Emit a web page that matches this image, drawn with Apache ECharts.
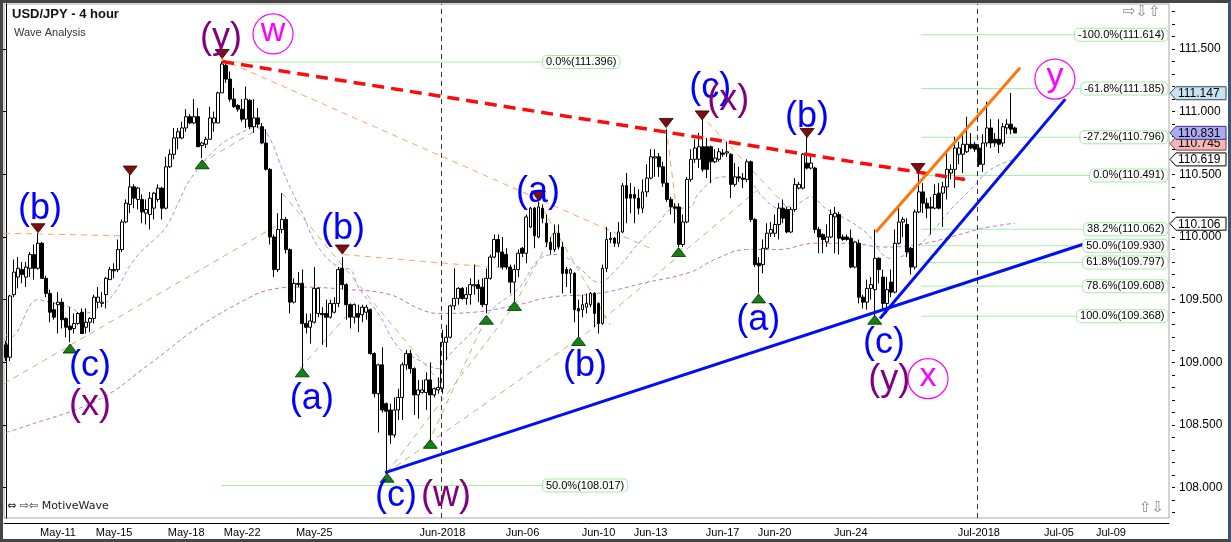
<!DOCTYPE html>
<html><head><meta charset="utf-8">
<script src="https://cdn.jsdelivr.net/npm/echarts@6/dist/echarts.min.js"></script>
<style>
html,body{margin:0;padding:0;background:#fff;}
#chart{position:absolute;left:0;top:0;width:1231px;height:542px;}
#frame{position:absolute;left:0;top:0;width:1231px;height:542px;box-sizing:border-box;border-top:3px solid #454545;border-left:3px solid #454545;border-right:3px solid #3a5678;border-bottom:3px solid #454545;pointer-events:none;}
</style></head><body>
<div id="chart"></div><div id="frame"></div>
<script>
// ---------- DATA ----------
const slotCount = 291;
const xTickSlots = [13, 27, 45, 59, 77, 109, 129, 148, 161, 179, 192, 211, 243, 263, 276];
const xTickLabels = ['May-11','May-15','May-18','May-22','May-25','Jun-2018','Jun-06','Jun-10','Jun-13','Jun-17','Jun-20','Jun-24','Jul-2018','Jul-05','Jul-09'];
const yTickValues = [108, 108.5, 109, 109.5, 110, 110.5, 111, 111.5];
const yMinorValues = [107.8,107.9,108.0,108.1,108.2,108.3,108.4,108.5,108.6,108.7,108.8,108.9,109.0,109.1,109.2,109.3,109.4,109.5,109.6,109.7,109.8,109.9,110.0,110.1,110.2,110.3,110.4,110.5,110.6,110.7,110.8,110.9,111.0,111.1,111.2,111.3,111.4,111.5,111.6,111.7,111.8];

const candleOpen = [
109.14,109.04,109.54,109.68,109.74,109.68,109.75,109.86,109.75,109.95,
109.67,109.55,109.42,109.46,109.48,109.35,109.29,109.27,109.31,109.40,
109.28,109.32,109.35,109.48,109.47,109.54,109.66,109.74,109.74,109.90,
110.12,110.26,110.40,110.30,110.30,110.19,110.18,110.23,110.30,110.39,
110.23,110.56,110.66,110.79,110.79,110.87,110.96,110.91,110.96,110.73,
110.74,110.78,110.91,110.91,111.15,111.37,111.26,111.10,111.05,111.02,
110.94,111.09,110.88,110.95,110.88,110.75,110.54,110.00,109.74,110.06,
110.14,109.90,109.48,109.62,109.63,109.31,109.28,109.32,109.39,109.39,
109.39,109.36,109.40,109.47,109.75,109.62,109.46,109.36,109.39,109.38,
109.40,109.42,109.07,108.75,108.98,108.67,108.62,108.42,108.62,108.72,
108.98,109.07,108.95,108.74,108.76,108.76,108.86,108.74,108.78,108.79,
109.16,109.20,109.45,109.51,109.59,109.51,109.54,109.61,109.62,109.60,
109.46,109.67,109.84,109.98,109.88,109.86,109.76,109.64,109.74,109.91,
109.87,110.08,110.23,110.00,110.23,110.11,109.96,109.90,110.03,109.92,
109.74,109.71,109.71,109.43,109.42,109.44,109.46,109.55,109.47,109.31,
109.75,109.98,109.99,109.95,110.04,110.41,110.34,110.34,110.31,110.23,
110.36,110.47,110.63,110.64,110.56,110.43,110.30,110.24,110.24,109.94,
110.12,110.46,110.62,110.62,110.72,110.72,110.72,110.60,110.62,110.67,
110.67,110.66,110.42,110.48,110.47,110.46,110.60,110.14,109.79,109.78,
109.91,110.03,110.03,110.10,110.23,110.22,110.04,110.22,110.39,110.39,
110.59,110.55,110.55,110.06,110.02,109.96,110.00,110.16,110.18,110.00,
110.00,109.99,109.76,109.95,109.52,109.48,109.59,109.58,109.83,109.68,
109.47,109.64,109.56,109.95,110.12,110.10,109.91,109.76,110.20,110.36,
110.27,110.24,110.23,110.35,110.35,110.40,110.51,110.54,110.66,110.66,
110.68,110.74,110.74,110.71,110.58,110.75,110.87,110.78,110.78,110.75,
110.87,110.90,110.87
];
const candleClose = [
109.04,109.53,109.72,109.75,109.70,109.76,109.86,109.75,109.95,109.67,
109.55,109.40,109.36,109.48,109.34,109.28,109.26,109.31,109.39,109.23,
109.32,109.35,109.52,109.52,109.48,109.67,109.74,109.73,109.90,110.12,
110.27,110.40,110.31,110.39,110.20,110.22,110.31,110.35,110.39,110.23,
110.56,110.66,110.79,110.84,110.87,110.96,110.91,110.96,110.72,110.75,
110.78,110.95,110.95,111.15,111.38,111.26,111.10,111.04,111.02,110.94,
111.10,110.88,110.95,110.90,110.75,110.54,110.00,109.74,110.06,110.14,
109.90,109.48,109.63,109.63,109.31,109.28,109.33,109.59,109.59,109.38,
109.36,109.47,109.47,109.74,109.62,109.46,109.36,109.46,109.36,109.44,
109.44,109.07,108.75,108.98,108.62,108.61,108.42,108.62,108.72,108.98,
109.07,108.95,108.74,108.78,108.78,108.86,108.74,108.79,108.80,109.16,
109.20,109.45,109.51,109.59,109.51,109.54,109.62,109.62,109.59,109.46,
109.67,109.84,109.98,109.88,109.76,109.76,109.64,109.74,109.87,109.87,
110.16,110.23,110.01,110.24,110.15,109.96,109.90,110.03,109.92,109.71,
109.71,109.74,109.42,109.41,109.46,109.47,109.55,109.39,109.31,109.75,
109.98,109.99,109.95,110.04,110.41,110.31,110.31,110.31,110.23,110.36,
110.47,110.64,110.64,110.56,110.43,110.30,110.24,110.23,109.94,110.12,
110.46,110.62,110.71,110.72,110.54,110.54,110.60,110.63,110.68,110.66,
110.68,110.42,110.48,110.47,110.46,110.60,110.14,109.78,109.77,109.91,
110.03,110.06,110.10,110.23,110.15,110.04,110.22,110.42,110.42,110.66,
110.55,110.59,110.06,110.00,109.98,110.00,110.18,110.19,109.99,109.98,
109.98,109.76,109.96,109.52,109.48,109.59,109.62,109.83,109.74,109.47,
109.58,109.56,109.95,110.12,110.14,109.88,109.76,110.20,110.36,110.27,
110.23,110.23,110.34,110.23,110.40,110.54,110.54,110.71,110.71,110.74,
110.74,110.71,110.70,110.58,110.75,110.87,110.75,110.75,110.74,110.88,
110.90,110.86,110.83
];
const candleLow = [
109.01,109.01,109.52,109.59,109.63,109.60,109.68,109.66,109.74,109.67,
109.52,109.32,109.34,109.23,109.27,109.20,109.16,109.23,109.30,109.23,
109.23,109.24,109.31,109.43,109.44,109.43,109.66,109.67,109.72,109.88,
110.11,110.19,110.23,110.22,110.11,110.10,110.06,110.14,110.28,110.14,
110.22,110.55,110.62,110.70,110.78,110.84,110.90,110.90,110.72,110.63,
110.71,110.78,110.84,110.91,111.15,111.23,111.08,111.03,111.00,110.92,
110.87,110.86,110.83,110.87,110.74,110.53,109.94,109.68,109.72,110.03,
109.87,109.39,109.47,109.60,108.95,109.23,109.15,109.31,109.36,109.14,
109.12,109.35,109.39,109.44,109.58,109.34,109.27,109.31,109.24,109.32,
109.34,109.06,108.72,108.44,108.60,108.11,108.35,108.40,108.54,108.54,
108.94,108.91,108.58,108.55,108.75,108.62,108.38,108.72,108.75,108.75,
109.02,109.19,109.42,109.46,109.50,109.46,109.46,109.54,109.48,109.44,
109.39,109.66,109.83,109.76,109.74,109.74,109.55,109.46,109.68,109.84,
109.79,110.07,109.91,109.99,110.11,109.92,109.86,109.88,109.90,109.55,
109.60,109.55,109.32,109.19,109.36,109.39,109.44,109.28,109.23,109.30,
109.72,109.95,109.92,109.92,110.03,110.11,110.19,110.11,110.18,110.19,
110.32,110.46,110.48,110.48,110.40,110.28,110.18,110.11,109.92,109.92,
110.11,110.44,110.59,110.55,110.52,110.47,110.43,110.59,110.60,110.64,
110.64,110.31,110.40,110.44,110.39,110.44,110.12,109.76,109.55,109.71,
109.90,110.00,110.00,109.98,110.11,110.03,110.03,110.20,110.38,110.38,
110.54,110.54,110.03,109.87,109.87,109.92,109.99,109.87,109.86,109.97,
109.97,109.75,109.75,109.47,109.43,109.42,109.50,109.37,109.63,109.42,
109.39,109.52,109.55,109.94,110.00,109.84,109.70,109.74,110.19,110.19,
110.15,110.02,110.22,110.22,110.08,110.30,110.46,110.39,110.58,110.51,
110.67,110.70,110.68,110.56,110.52,110.72,110.71,110.72,110.67,110.72,
110.82,110.82,110.83
];
const candleHigh = [
109.17,109.54,109.82,109.84,109.80,109.80,109.88,109.94,110.03,109.96,
109.69,109.58,109.48,109.56,109.51,109.36,109.44,109.39,109.40,109.43,
109.43,109.36,109.54,109.60,109.56,109.68,109.76,109.79,109.98,110.14,
110.30,110.52,110.42,110.40,110.34,110.30,110.36,110.36,110.42,110.40,
110.64,110.70,110.87,110.87,110.92,111.02,110.98,111.10,111.03,110.76,
110.80,111.04,111.00,111.16,111.40,111.38,111.32,111.19,111.06,111.10,
111.20,111.10,111.10,111.03,110.91,110.86,110.55,110.02,110.19,110.35,
110.16,109.91,109.67,109.72,109.74,109.39,109.39,109.76,109.60,109.44,
109.50,109.50,109.52,109.76,109.84,109.63,109.47,109.47,109.46,109.46,
109.46,109.43,109.08,108.99,109.12,108.68,108.67,108.72,108.79,109.00,
109.10,109.10,108.96,108.86,108.86,108.92,109.00,108.80,108.88,109.26,
109.30,109.46,109.75,109.60,109.60,109.60,109.67,109.78,109.66,109.67,
109.75,109.86,110.02,110.02,110.00,109.91,109.78,109.78,109.90,109.92,
110.18,110.24,110.24,110.28,110.26,110.18,110.00,110.10,110.10,109.96,
109.76,109.75,109.72,109.50,109.54,109.55,109.56,109.56,109.48,109.78,
110.08,110.04,110.00,110.12,110.43,110.51,110.43,110.40,110.38,110.46,
110.58,110.70,110.70,110.67,110.60,110.86,110.32,110.27,110.27,110.18,
110.48,110.70,110.78,110.83,110.95,110.79,110.73,110.70,110.71,110.70,
110.76,110.67,110.59,110.56,110.51,110.62,110.61,110.15,109.84,109.98,
110.11,110.12,110.18,110.27,110.30,110.24,110.24,110.47,110.44,110.67,
110.82,110.64,110.56,110.08,110.03,110.10,110.22,110.24,110.20,110.02,
110.02,110.06,109.97,109.98,109.54,109.66,109.68,110.06,109.84,109.74,
109.68,109.74,110.06,110.23,110.16,110.15,109.92,110.22,110.54,110.43,
110.31,110.32,110.42,110.43,110.44,110.67,110.58,110.80,110.76,110.83,
110.96,110.83,110.76,110.74,110.82,111.08,110.94,110.83,110.94,110.91,
110.94,111.15,110.88
];

// moving averages: [slot, price]
const maFast = [[0,109.22],[1,109.20],[8,109.50],[11,109.48],[16,109.44],[19,109.39],[23,109.43],[27,109.55],[32,109.82],[37,109.98],[40,110.08],[43,110.27],[46,110.46],[53,110.72],[58,110.82],[63,110.88],[66,110.78],[69,110.54],[74,110.19],[78,109.92],[83,109.76],[86,109.74],[88,109.60],[93,109.39],[98,109.12],[103,109.02],[108,108.95],[111,109.07],[117,109.26],[122,109.44],[128,109.59],[134,109.84],[138,109.86],[143,109.76],[148,109.64],[153,109.76],[158,109.95],[163,110.11],[166,110.22],[171,110.24],[173,110.35],[179,110.48],[185,110.46],[189,110.32],[193,110.23],[198,110.27],[201,110.32],[205,110.22],[210,110.14],[215,110.03],[221,109.83],[226,109.88],[231,110.03],[236,110.22],[241,110.38],[246,110.54],[252,110.62]];
const maSlow = [[0,108.44],[3,108.47],[23,108.70],[36,108.99],[48,109.28],[61,109.52],[66,109.58],[73,109.60],[86,109.58],[96,109.54],[103,109.43],[108,109.39],[117,109.40],[128,109.46],[136,109.52],[148,109.55],[159,109.63],[171,109.72],[177,109.82],[185,109.90],[193,109.90],[202,109.95],[211,109.95],[219,109.92],[228,109.94],[236,110.00],[244,110.07],[252,110.11]];

// trend lines: [slot, price] end points
const redTrend = [[54, 111.40], [239.1, 110.46]];
const blueTrendLong = [[94.7, 108.12], [270.8, 109.96]];
const blueTrendSteep = [[218.3, 109.35], [264.6, 111.10]];
const orangeChannel = [[217.3, 110.04], [253.3, 111.35]];
const orangeThin = [
  [[-0.5, 110.03], [28.5, 110.01]],
  [[53.7, 111.42], [160.9, 109.91]],
  [[69.0, 110.35], [108.4, 108.84]],
  [[84.2, 109.86], [124.7, 109.75]],
  [[132.7, 110.30], [150.9, 109.30]],
  [[164.9, 110.87], [168.9, 109.86]],
  [[173.4, 110.98], [197.9, 110.14]],
  [[-0.5, 109.19], [1.7, 109.10]]
];
const khakiThin = [
  [[-0.5, 108.83], [69.7, 110.13]],
  [[48.7, 110.59], [64.0, 110.88]],
  [[73.4, 108.95], [85.9, 109.40]],
  [[95.2, 108.12], [105.4, 108.35]],
  [[105.4, 108.35], [119.7, 109.34]],
  [[95.2, 108.12], [126.9, 109.45]],
  [[105.4, 108.35], [142.6, 109.18]],
  [[142.6, 109.17], [187.9, 110.38]],
  [[126.9, 109.45], [136.6, 110.03]]
];
const vLineSlots = [108.7, 242.6];

// fibonacci levels
const fibLeftPcts = ['0.0%', '50.0%'];
const fibLeftPrices = [111.396, 108.017];
const fibLeftSpan = [53.7, 134.0];
const fibRightPcts = ['-100.0%', '-61.8%', '-27.2%', '0.0%', '38.2%', '50.0%', '61.8%', '78.6%', '100.0%'];
const fibRightPrices = [111.614, 111.185, 110.796, 110.491, 110.062, 109.930, 109.797, 109.608, 109.368];
const fibRightStart = 228.6;

// pivot markers
const pivotHighs = [[8, 110.07], [31, 110.53], [54, 111.46], [84, 109.90], [133, 110.33], [164.9, 110.91], [173.9, 110.97], [200.1, 110.83], [227.8, 110.55]];
const pivotLows = [[16, 109.11], [49, 110.58], [74, 108.92], [95.2, 108.08], [106, 108.35], [120, 109.34], [127, 109.45], [143, 109.17], [168, 109.88], [188, 109.51], [217, 109.34]];

// wave labels: [text, slot, price]
const waveBlue = [['(b)', 8.5, 110.22], ['(c)', 21, 108.97], ['(a)', 76.4, 108.71], ['(b)', 84.2, 110.06], ['(c)', 97.4, 107.93], ['(a)', 132.9, 110.36], ['(b)', 144.6, 108.97], ['(c)', 175.9, 111.19], ['(b)', 200.1, 110.96], ['(a)', 187.9, 109.34], ['(c)', 219.3, 109.15]];
const wavePurple = [['(x)', 21, 108.66], ['(y)', 53.7, 111.59], ['(w)', 109.9, 107.93], ['(x)', 180.4, 111.09], ['(y)', 220.6, 108.86]];
const waveCircled = [['w', 66.7, 111.62], ['x', 230.3, 108.87], ['y', 262, 111.26]];

// price tags on the axis
const priceTagValues = [111.147, 110.745, 110.831, 110.619, 110.106];

// ---------- CHART ----------
const FONT = "'Liberation Sans', Arial, sans-serif";
const tagFill = ['#c9e4f1', '#f5b6b6', '#aaaaf2', '#ffffff', '#ffffff'];
const tagStroke = ['#34495c', '#8a3a3a', '#38388a', '#000000', '#000000'];

const categories = Array.from({length: slotCount}, () => '');
xTickSlots.forEach((s, i) => { categories[s] = xTickLabels[i]; });

const candles = candleOpen.map((o, i) => [o, candleClose[i], candleLow[i], candleHigh[i]]);

const series = [];
const seg = (data, style, z) => ({type: 'line', xAxisIndex: 1, yAxisIndex: 0, data, symbol: 'none', silent: true, lineStyle: style, z: z || 2, animation: false});
const HIDDEN = {color: 'rgba(0,0,0,0)', opacity: 1};

series.push({type: 'line', xAxisIndex: 1, data: maSlow, smooth: 0.4, symbol: 'none', silent: true, lineStyle: {color: '#bf76bf', width: 1, type: [4, 3]}, z: 2});
series.push({type: 'line', xAxisIndex: 1, data: maFast, smooth: 0.4, symbol: 'none', silent: true, lineStyle: {color: '#7ea2fa', width: 1, type: [4, 3]}, z: 2,
  markLine: {symbol: 'none', silent: true, label: {show: false}, lineStyle: {color: '#333', width: 1, type: [5, 4]}, data: vLineSlots.map(v => ({xAxis: v}))}});
orangeThin.forEach(d => series.push(seg(d, {color: '#ffa064', width: 1, type: [6, 5]})));
khakiThin.forEach(d => series.push(seg(d, {color: '#b8b874', width: 1, type: [6, 5]})));

// fib lines
fibLeftPrices.forEach(p => {
  series.push(seg([[fibLeftSpan[0], p], [fibLeftSpan[1], p]], {color: '#a4eea4', width: 1, type: 'solid'}, 2));
});
fibRightPrices.forEach(p => {
  series.push(seg([[fibRightStart, p], [290.5, p]], {color: '#a4eea4', width: 1, type: 'solid'}, 2));
});
const fibLabelStyle = {show: true, fontSize: 11, fontFamily: FONT, color: '#000', backgroundColor: '#fff', borderColor: '#a8e8a8', borderWidth: 1, borderRadius: 4, padding: [1, 3, 0, 3]};
series.push({type: 'scatter', xAxisIndex: 1, clip: false, silent: true, z: 7, symbolSize: 1, itemStyle: HIDDEN,
  data: fibLeftPrices.map((p, i) => ({value: [fibLeftSpan[1], p], name: fibLeftPcts[i] + '(' + p.toFixed(3) + ')'})),
  label: Object.assign({}, fibLabelStyle, {position: 'right', distance: 0, formatter: '{b}'})});
series.push({type: 'scatter', xAxisIndex: 1, clip: false, silent: true, z: 7, symbolSize: 1, itemStyle: HIDDEN,
  data: fibRightPrices.map((p, i) => ({value: [290.5, p], name: fibRightPcts[i] + '(' + p.toFixed(3) + ')'})),
  label: Object.assign({}, fibLabelStyle, {position: 'left', distance: 1, formatter: '{b}'})});

// candles
series.push({type: 'candlestick', xAxisIndex: 0, yAxisIndex: 0, data: candles, barWidth: 3.4, z: 3, silent: true,
  itemStyle: {color: '#ffffff', color0: '#000000', borderColor: '#000000', borderColor0: '#000000', borderWidth: 1}});

// thick trend lines
series.push(seg(redTrend, {color: '#ff0a0a', width: 3.5, type: [12, 7]}, 4));
series.push({type: 'scatter', xAxisIndex: 1, silent: true, z: 4, data: [redTrend[1]], symbol: 'circle', symbolSize: 4, itemStyle: {color: '#ff0a0a', opacity: 1}});
series.push(seg(blueTrendLong, {color: '#0010f0', width: 3, type: 'solid'}, 4));
series.push(seg(blueTrendSteep, {color: '#0010f0', width: 3, type: 'solid'}, 4));
series.push(seg(orangeChannel, {color: '#ff760a', width: 3, type: 'solid'}, 4));

// pivot triangles
series.push({type: 'scatter', xAxisIndex: 1, silent: true, z: 5, data: pivotHighs, symbol: 'triangle', symbolRotate: 180, symbolSize: [14, 9],
  itemStyle: {color: '#7e0f0f', borderColor: '#300000', borderWidth: 0.8, opacity: 1}});
series.push({type: 'scatter', xAxisIndex: 1, silent: true, z: 5, data: pivotLows, symbol: 'triangle', symbolSize: [14, 9],
  itemStyle: {color: '#158015', borderColor: '#003000', borderWidth: 0.8, opacity: 1}});

// wave labels
const waveText = (arr, color) => ({type: 'scatter', xAxisIndex: 1, silent: true, z: 6, clip: false, symbolSize: 1, itemStyle: HIDDEN,
  data: arr.map(a => ({value: [a[1], a[2]], name: a[0]})),
  label: {show: true, position: 'inside', formatter: '{b}', color, opacity: 1, fontSize: 36, fontFamily: FONT}});
series.push(waveText(waveBlue, '#0000ff'));
series.push(waveText(wavePurple, '#800080'));
series.push({type: 'scatter', xAxisIndex: 1, silent: true, z: 6, clip: false, symbol: 'circle', symbolSize: 40,
  itemStyle: {color: '#ffffff', borderColor: '#ff00ff', borderWidth: 1.2, opacity: 1},
  data: waveCircled.map(a => ({value: [a[1], a[2]], name: a[0]})),
  label: {show: true, position: 'inside', formatter: '{b}', color: '#ff00ff', opacity: 1, fontSize: 34, fontFamily: FONT, offset: [0, -2]}});

// price tags
series.push({type: 'custom', xAxisIndex: 1, yAxisIndex: 0, clip: false, silent: true, z: 10,
  data: priceTagValues.map((v, i) => [290, v, i]),
  renderItem: (params, api) => {
    const i = api.value(2);
    const v = api.value(1);
    const y = api.coord([0, v])[1];
    const cs = params.coordSys;
    const x0 = cs.x + cs.width + 1;
    const h = 6.5;
    return {type: 'group', children: [
      {type: 'polygon', shape: {points: [[x0, y], [x0 + 6, y - h], [x0 + 56, y - h], [x0 + 56, y + h], [x0 + 6, y + h]]},
        style: {fill: tagFill[i], stroke: tagStroke[i], lineWidth: 1}},
      {type: 'text', x: x0 + 8, y: y + 0.5, style: {text: v.toFixed(3), font: '12px ' + FONT, fill: '#000', verticalAlign: 'middle', align: 'left'}}
    ]};
  }});

const chart = echarts.init(document.getElementById('chart'), null, {renderer: 'canvas'});
chart.setOption({
  animation: false,
  backgroundColor: '#ffffff',
  grid: {left: 4, right: 62, top: 4, bottom: 24, show: true, borderColor: '#a9a9a0', borderWidth: 1, backgroundColor: '#ffffff'},
  xAxis: [
    {type: 'category', data: categories, boundaryGap: true, offset: 5,
      axisLine: {lineStyle: {color: '#000', width: 1}},
      axisTick: {inside: true, length: 5, alignWithLabel: true, interval: (i, v) => v !== '', lineStyle: {color: '#000'}},
      axisLabel: {interval: (i, v) => v !== '', color: '#000', fontSize: 11, fontFamily: FONT, margin: 4},
      splitLine: {show: false}},
    {type: 'value', min: -0.5, max: slotCount - 0.5, show: false}
  ],
  yAxis: [
    {type: 'value', position: 'right', min: 107.758, max: 111.859, offset: 6, scale: true,
      axisLine: {show: true, lineStyle: {color: '#000', width: 1}},
      axisTick: {show: true, inside: true, length: 5, customValues: yTickValues, lineStyle: {color: '#000'}},
      axisLabel: {customValues: yTickValues, formatter: v => v.toFixed(3), color: '#000', fontSize: 12, fontFamily: FONT, margin: 4},
      splitLine: {show: false}},
    {type: 'value', position: 'right', min: 107.758, max: 111.859, offset: 6, scale: true,
      axisLine: {show: false},
      axisTick: {show: true, inside: true, length: 3, customValues: yMinorValues, lineStyle: {color: '#000'}},
      axisLabel: {show: false}, splitLine: {show: false}}
  ],
  graphic: [
    {type: 'text', left: 12, top: 8, z: 20, style: {text: 'USD/JPY - 4 hour', font: 'bold 13px ' + FONT, fill: '#111'}},
    {type: 'text', left: 14, top: 27, z: 20, style: {text: 'Wave Analysis', font: '11px ' + FONT, fill: '#333'}},
    {type: 'text', left: 7, top: 501, z: 20, style: {text: '\u21D4 \u21E8\u21E6 MotiveWave', font: "11px 'DejaVu Sans', sans-serif", fill: '#222'}},
    {type: 'text', left: 1123, top: 5, z: 20, style: {text: '\u21E8\u21E9\u21E7', font: "15px 'DejaVu Sans', sans-serif", fill: '#8a8a8a'}},
    {type: 'text', left: 1139, top: 501, z: 20, style: {text: '\u21E7\u21E9', font: "15px 'DejaVu Sans', sans-serif", fill: '#8a8a8a'}}
  ],
  series
});
</script></body></html>
